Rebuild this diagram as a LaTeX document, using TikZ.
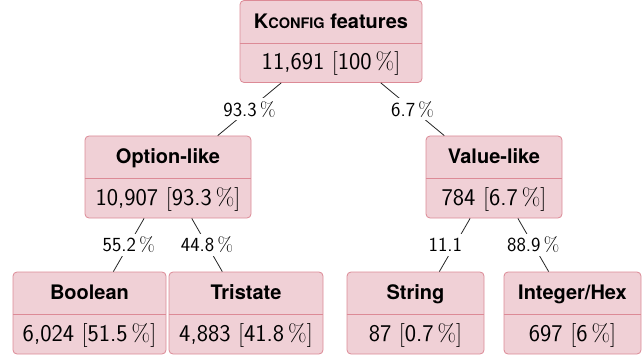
\documentclass[tikz,border=0pt]{standalone}
\usepackage{fontspec}
\newfontfamily\headfont{TeX Gyre Heros}
\definecolor{boxfill}{HTML}{F0D0D6}
\definecolor{boxdraw}{HTML}{DC8A96}
\newcommand{\pct}{\,{\rmfamily\%}}
\newcommand{\lb}{{\rmfamily[}}
\newcommand{\rb}{{\rmfamily]}}
\tikzset{
  featbox/.style={draw=boxdraw, fill=boxfill, line width=0.8pt, rounded corners=4pt,
    minimum height=82pt, inner sep=0pt},
  divider/.style={draw=boxdraw, line width=0.7pt},
  titletext/.style={inner sep=0pt, anchor=base, font=\headfont\bfseries\fontsize{20}{24}\selectfont},
  valtext/.style={inner sep=0pt, anchor=base, font=\sffamily\fontsize{24}{28}\selectfont},
  edge/.style={draw=black!85, line width=0.8pt},
  elabel/.style={fill=white, inner sep=3pt, font=\sffamily\fontsize{20}{24}\selectfont}
}
\newcommand{\featbox}[6]{%
  \node[featbox, minimum width=#4pt] (#1) at (#2,#3) {};
  \draw[divider] ([yshift=-43pt]#1.north west) -- ([yshift=-43pt]#1.north east);
  \node[titletext] (#1-t) at ([yshift=-28.3pt]#1.north) {#5};
  \node[valtext] (#1-v) at ([yshift=13pt]#1.south) {#6};
}
\begin{document}
\begin{tikzpicture}[x=1pt,y=-1pt]
\useasboundingbox (0,0) rectangle (644,358);
\featbox{root}{331}{41.5}{182}{K{\fontsize{14.5}{16}\selectfont CONFIG} features}{11,691 \lb100\pct\rb}
\featbox{opt}{168}{177}{166}{Option-like}{10,907 \lb93.3\pct\rb}
\featbox{val}{494}{177}{136}{Value-like}{784 \lb6.7\pct\rb}
\featbox{bool}{89.5}{313}{153}{Boolean}{6,024 \lb51.5\pct\rb}
\featbox{tri}{246}{313}{154}{Tristate}{4,883 \lb41.8\pct\rb}
\featbox{str}{415.5}{313}{137}{String}{87 \lb0.7\pct\rb}
\featbox{int}{572.5}{313}{137}{Integer/Hex}{697 \lb6\pct\rb}
\draw[edge] (root) -- node[elabel] (l1) {93.3\pct} (opt);
\draw[edge] (root) -- node[elabel] (l2) {6.7\pct} (val);
\draw[edge] (opt) -- node[elabel] (l3) {55.2\pct} (bool);
\draw[edge] (opt) -- node[elabel] (l4) {44.8\pct} (tri);
\draw[edge] (val) -- node[elabel] (l5) {11.1\phantom{\pct}} (str);
\draw[edge] (val) -- node[elabel] (l6) {88.9\pct} (int);
\end{tikzpicture}
\end{document}
